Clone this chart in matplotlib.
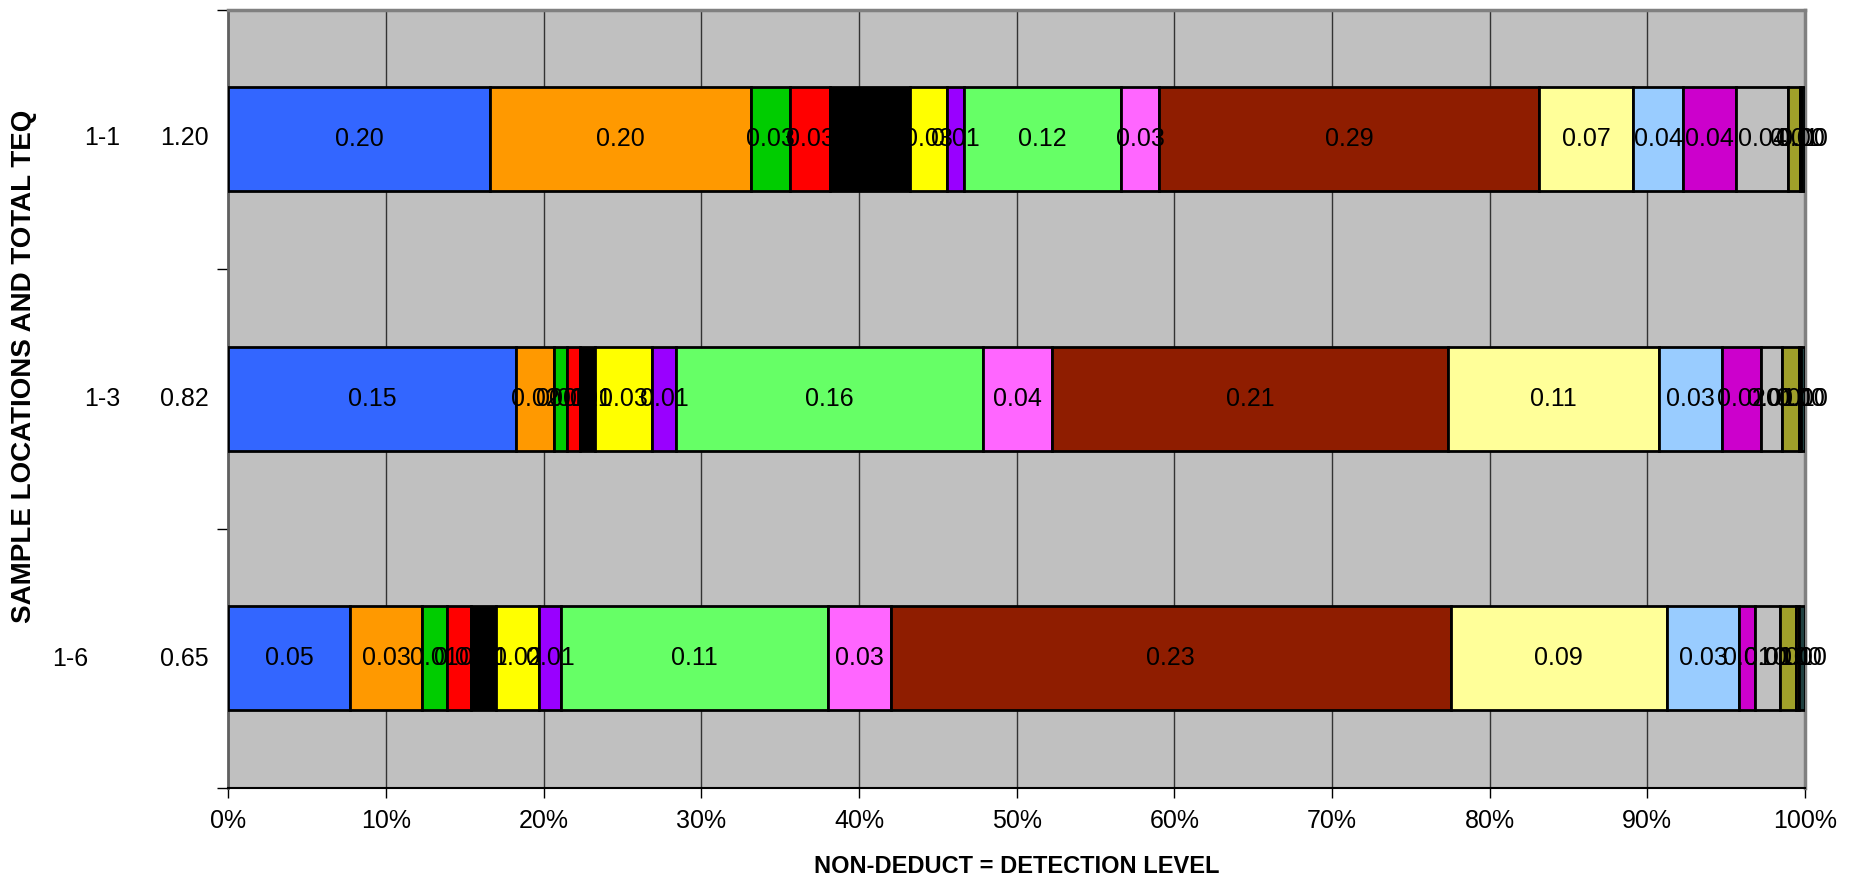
import matplotlib
matplotlib.use("Agg")
from matplotlib import pyplot as plt
import numpy as np

plt.rcParams['font.family'] = ['Liberation Sans', 'DejaVu Sans']

# sample locations (top to bottom) and their total TEQ
samples = ['1-1', '1-3', '1-6']
totals = [1.20, 0.82, 0.65]

# contribution of each congener to the total TEQ, one list per series
s01 = [0.199, 0.150, 0.050]
s02 = [0.199, 0.020, 0.030]
s03 = [0.030, 0.0067, 0.010]
s04 = [0.030, 0.007, 0.010]
s05 = [0.061, 0.0074, 0.0104]
s06 = [0.028, 0.030, 0.0177]
s07 = [0.013, 0.0126, 0.009]
s08 = [0.120, 0.160, 0.110]
s09 = [0.029, 0.036, 0.026]
s10 = [0.289, 0.207, 0.231]
s11 = [0.072, 0.110, 0.089]
s12 = [0.038, 0.033, 0.030]
s13 = [0.040, 0.020, 0.0066]
s14 = [0.040, 0.0109, 0.0103]
s15 = [0.0089, 0.009, 0.0062]
s16 = [0.0012, 0.0012, 0.0016]
s17 = [0.0026, 0.002, 0.0023]

series = [s01, s02, s03, s04, s05, s06, s07, s08, s09, s10, s11, s12, s13, s14, s15, s16, s17]
colors = ['#3366FF', '#FF9900', '#00CC00', '#FF0000', '#000000', '#FFFF00', '#9900FF',
          '#66FF66', '#FF66FF', '#8F1D00', '#FFFF99', '#99CCFF', '#CC00CC', '#C0C0C0',
          '#A0A02A', '#8B4500', '#1F3F3F']

fig = plt.figure(figsize=(18.56, 8.8), dpi=100)
ax = fig.add_axes([0.1231, 0.1045, 0.8494, 0.8847])
ax.set_facecolor('#C0C0C0')

ypos = np.array([2, 1, 0])
vals = np.array(series)
pct = vals / vals.sum(axis=0) * 100
left = np.zeros(3)
for i in range(len(series)):
    ax.barh(ypos, pct[i], left=left, height=0.4, color=colors[i],
            edgecolor='black', linewidth=2, zorder=3)
    for j in range(3):
        ax.text(left[j] + pct[i][j] / 2, ypos[j], '%.2f' % vals[i][j],
                ha='center', va='center', fontsize=18, zorder=4)
    left = left + pct[i]

ax.set_xlim(0, 100)
ax.set_ylim(-0.5, 2.5)
ax.set_xticks(np.arange(0, 101, 10))
ax.set_xticklabels(['%d%%' % v for v in range(0, 101, 10)], fontsize=18)
ax.xaxis.grid(True, color='#333333', linewidth=1, zorder=1)
ax.set_yticks([-0.5, 0.5, 1.5, 2.5])
ax.set_yticklabels([])
ax.tick_params(axis='y', length=8, width=1, color='black')
ax.tick_params(axis='x', length=7, width=1, color='black', pad=8)

for sp in ['top', 'right']:
    ax.spines[sp].set_color('#808080')
    ax.spines[sp].set_linewidth(2.5)
ax.spines['left'].set_color('#606060')
ax.spines['left'].set_linewidth(2)
ax.spines['bottom'].set_color('black')
ax.spines['bottom'].set_linewidth(1.5)

# two-column category labels: sample name and total TEQ
name_x = [102, 102, 70]
for j in range(3):
    fig.text(name_x[j] / 1856, 1 - (138 + j * 260.5) / 880, samples[j],
             ha='center', va='center', fontsize=18)
    fig.text(209 / 1856, 1 - (138 + j * 260.5) / 880, '%.2f' % totals[j],
             ha='right', va='center', fontsize=18)

fig.text(1017 / 1856, 1 - 866 / 880, 'NON-DEDUCT = DETECTION LEVEL',
         ha='center', va='center', fontsize=17, fontweight='bold')
fig.text(24 / 1856, 1 - 366 / 880, 'SAMPLE LOCATIONS AND TOTAL TEQ',
         ha='center', va='center', rotation=90, fontsize=20, fontweight='bold')

fig.savefig('out.png', dpi=100)
